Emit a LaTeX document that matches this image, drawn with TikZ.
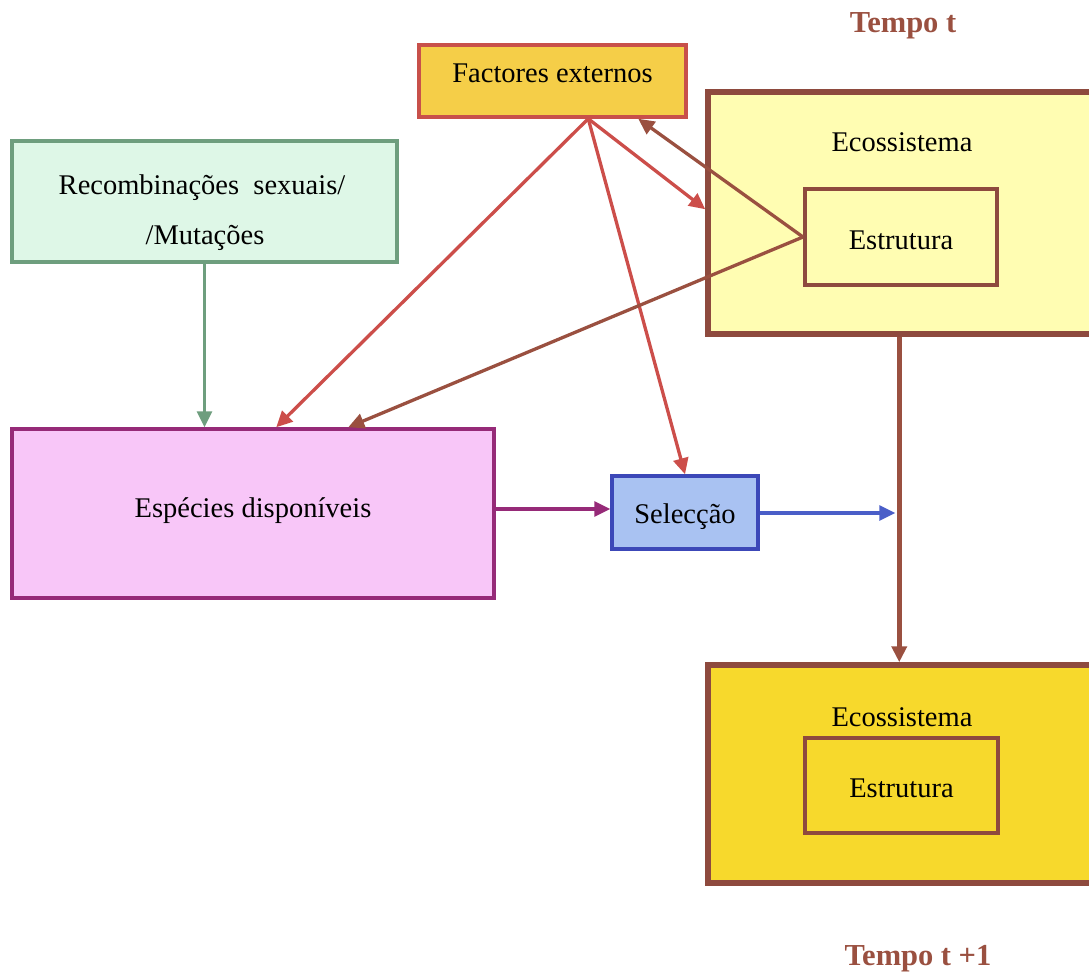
\documentclass[tikz,border=0pt]{standalone}
\usepackage{fontspec}
\setmainfont{Liberation Serif}
\usetikzlibrary{arrows.meta,calc}

\definecolor{facfill}{HTML}{F5CE48}
\definecolor{facline}{HTML}{C8504A}
\definecolor{ecofill}{HTML}{FFFDB2}
\definecolor{ecofilldark}{HTML}{F7D92C}
\definecolor{ecoline}{HTML}{8E4A3E}
\definecolor{recfill}{HTML}{DEF7E7}
\definecolor{recline}{HTML}{6E9E7E}
\definecolor{espfill}{HTML}{F8C6F8}
\definecolor{espline}{HTML}{962A78}
\definecolor{selfill}{HTML}{A9C2F2}
\definecolor{selline}{HTML}{3C48B8}
\definecolor{redarrow}{HTML}{CC4E4A}
\definecolor{brownarrow}{HTML}{9A5040}
\definecolor{bluearrow}{HTML}{4A5EC8}
\definecolor{tempo}{HTML}{9A5040}

\begin{document}
\begin{tikzpicture}[x=1pt,y=-1pt,
  every node/.style={font=\fontsize{28.5}{50}\selectfont, inner sep=0pt},
  box/.style={draw, rectangle, line width=3.5pt},
  ecobox/.style={box, draw=ecoline, line width=5.5pt},
  estbox/.style={box, draw=ecoline, line width=4pt, minimum width=192pt, minimum height=96pt},
  lbl/.style={anchor=base},
  tempolbl/.style={anchor=base, text=tempo, font=\fontsize{30.5}{32}\selectfont\bfseries},
  arr/.style={line width=3.3pt, -{Triangle[length=16pt,width=15pt]}},
  redarr/.style={arr, draw=redarrow},
  brownarr/.style={arr, draw=brownarrow},
]
\useasboundingbox (0,0) rectangle (1089,973);

% time labels
\node[tempolbl] (tempo0) at (903,33) {Tempo t};
\node[tempolbl] (tempo1) at (918,965) {Tempo t +1};

% boxes
\node[box, draw=facline, fill=facfill, minimum width=267pt, minimum height=72pt,
      text height=19pt, text depth=15pt] (fac) at (552.5,81) {Factores externos};

\node[ecobox, fill=ecofill, minimum width=394pt, minimum height=242pt] (eco1) at (905,213) {};
\node[lbl] (eco1lbl) at (902,152) {Ecossistema};
\node[estbox, fill=ecofill, text height=26pt, text depth=0pt] (est1) at (901,237) {Estrutura};

\node[box, draw=recline, fill=recfill, minimum width=385pt, minimum height=121pt] (rec) at (204.5,201.5) {};
\node[lbl] (rec1) at (202,195) {Recombinações\ \ sexuais/};
\node[lbl] (rec2) at (205,245) {/Mutações};

\node[box, draw=espline, fill=espfill, minimum width=482pt, minimum height=169pt,
      text height=19pt, text depth=12pt] (esp) at (253,513.5) {Espécies disponíveis};

\node[box, draw=selline, fill=selfill, minimum width=146pt, minimum height=73pt,
      text height=21pt, text depth=0pt] (sel) at (685,512.5) {Selecção};

\node[ecobox, fill=ecofilldark, minimum width=394pt, minimum height=218pt] (eco2) at (905,774) {};
\node[lbl] (eco2lbl) at (902,726) {Ecossistema};
\node[estbox, fill=ecofilldark, minimum width=193pt, minimum height=95pt,
      text height=23pt, text depth=0pt] (est2) at (901.5,785.5) {Estrutura};

% connection points
\coordinate (facout) at ($(fac.south west)+(171,0)$);
\coordinate (facin)  at ($(fac.south west)+(221,0)$);
\coordinate (ecoin)  at ($(eco1.north west)+(0,120)$);
\coordinate (espred) at ($(esp.north west)+(266,0)$);
\coordinate (espbr)  at ($(esp.north west)+(338,0)$);
\coordinate (vtop)   at ($(eco1.south west)+(194,0)$);
\coordinate (pin)    at ($(sel.west)+(0,-3.5)$);
\coordinate (bout)   at ($(sel.east)+(0,0.5)$);

% connectors
\draw[arr, draw=recline] (rec.south) -- (rec.south |- esp.north);
\draw[redarr] (facout) -- (espred);
\draw[redarr] (facout) -- (sel.north);
\draw[redarr] (facout) -- (ecoin);
\draw[brownarr] (est1.west) -- (facin);
\draw[brownarr] (est1.west) -- (espbr);
\draw[arr, draw=espline] (esp.east |- pin) -- (pin);
\draw[arr, draw=bluearrow] (bout) -- ($(bout -| vtop)+(-4,0)$);
\draw[brownarr, line width=4.5pt] (vtop) -- (vtop |- eco2.north);
\end{tikzpicture}
\end{document}
